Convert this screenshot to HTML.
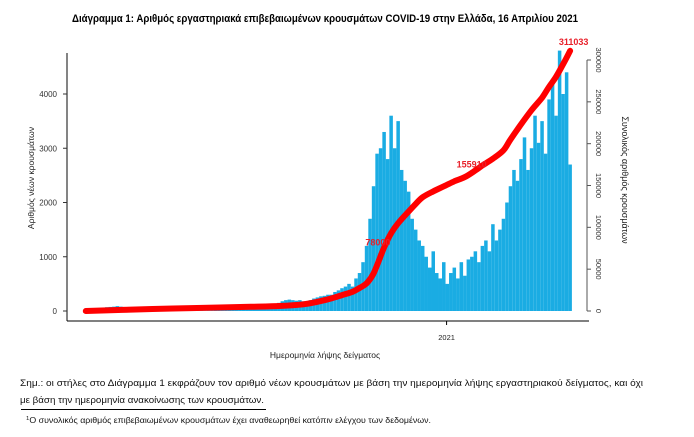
<!DOCTYPE html>
<html><head><meta charset="utf-8"><style>
html,body{margin:0;padding:0;background:#fff;}
svg{display:block;font-family:"Liberation Sans","DejaVu Sans",sans-serif;}
</style></head><body>
<svg id="chart" width="694" height="437" viewBox="0 0 694 437" xmlns="http://www.w3.org/2000/svg">
<text x="325" y="22" text-anchor="middle" font-size="11" font-weight="bold" textLength="506" lengthAdjust="spacingAndGlyphs" fill="#000">Διάγραμμα 1: Αριθμός εργαστηριακά επιβεβαιωμένων κρουσμάτων COVID-19 στην Ελλάδα, 16 Απριλίου 2021</text>
<g id="bars"></g>
<g id="line"></g>
<g id="axes"></g>
<text x="325" y="358" text-anchor="middle" font-size="8.5" fill="#222">Ημερομηνία λήψης δείγματος</text>
<text transform="translate(34,178) rotate(-90)" text-anchor="middle" font-size="8.5" fill="#222">Αριθμός νέων κρουσμάτων</text>
<text transform="translate(622,180) rotate(90)" text-anchor="middle" font-size="9" fill="#222">Συνολικός αριθμός κρουσμάτων</text>
<text x="20" y="386" font-size="9.5" fill="#111" textLength="623" lengthAdjust="spacingAndGlyphs">Σημ.: οι στήλες στο Διάγραμμα 1 εκφράζουν τον αριθμό νέων κρουσμάτων με βάση την ημερομηνία λήψης εργαστηριακού δείγματος, και όχι</text>
<text x="20" y="403" font-size="9.5" fill="#111" textLength="244" lengthAdjust="spacingAndGlyphs">με βάση την ημερομηνία ανακοίνωσης των κρουσμάτων.</text>
<line x1="21" y1="409.5" x2="266" y2="409.5" stroke="#000" stroke-width="1"/>
<text x="26" y="423" font-size="8" fill="#111" textLength="405" lengthAdjust="spacingAndGlyphs"><tspan font-size="5.5" dy="-3">1</tspan><tspan dy="3">Ο συνολικός αριθμός επιβεβαιωμένων κρουσμάτων έχει αναθεωρηθεί κατόπιν ελέγχου των δεδομένων.</tspan></text>
</svg>
<script>
// 3-day bins starting 26 Feb 2020 (daily new cases)
const newCases = [5,15,30,40,50,60,70,75,80,90,
80,70,60,50,40,30,25,20,15,12,
10,10,8,8,6,5,5,4,4,5,
6,8,10,8,6,7,8,10,12,15,
18,20,20,25,25,30,30,35,35,40,
45,50,60,80,120,150,180,200,210,200,
190,200,180,170,200,230,250,270,280,300,
300,350,380,420,450,500,450,600,700,900,
1200,1700,2300,2900,3000,3300,2800,3600,3000,3500,
2600,2400,2200,1700,1500,1300,1200,1000,800,1100,
700,600,900,500,700,800,600,900,650,950,
1000,1100,900,1200,1300,1100,1600,1300,1500,1700,
2000,2300,2600,2400,2800,3200,2600,3000,3600,3100,
3500,2900,3900,4200,3600,4800,4000,4400,2700];
// cumulative total, read at selected bins
const cumBins = [0,19,30,47,55,62,66,70,73,76,78,80,82,85,87,89,92,94,96,99,102,105,108,111,113,116,119,121,124,127,130,132,134,136,138];
const cumValues = [0,2400,3500,5000,6000,8000,11000,15000,19000,23000,27500,33000,45000,76000,93000,105000,119000,128000,136000,143000,149000,155000,160000,168000,174000,182000,192000,205000,223000,240000,255000,268000,280000,295000,311033];
const leftTicks = [0,1000,2000,3000,4000];
const rightTicks = [0,50000,100000,150000,200000,250000,300000];
const rightTickLabels = ["0","50000","100000","150000","200000","250000","300000"];
const cumLabels = ["78000","155910","311033"];
const cumLabelPos = [13,24,34];
const xTickLabel = "2021";
const xTickBin = 103.3;

const NS="http://www.w3.org/2000/svg";
const x0=84, pxPerBin=3.51;
const xS = i => x0 + i*pxPerBin;
const yL = v => 311 - v*54.25/1000;
const yR = v => 311 - v*251/300000;
function mk(tag, attrs, parent){const e=document.createElementNS(NS,tag);for(const k in attrs)e.setAttribute(k,attrs[k]);parent.appendChild(e);return e;}

const bars=document.getElementById('bars');
newCases.forEach((v,i)=>{
  const r=mk('rect',{x:xS(i),y:yL(v),width:pxPerBin,height:311-yL(v),fill:'#1aace3'},bars);
  
  
});

const lineG=document.getElementById('line');
const pts=cumValues.map((c,k)=>[xS(cumBins[k])+pxPerBin/2, yR(c)]);
let d='M'+pts[0][0].toFixed(1)+','+pts[0][1].toFixed(1);
for(let k=0;k<pts.length-1;k++){
  const p0=pts[Math.max(0,k-1)],p1=pts[k],p2=pts[k+1],p3=pts[Math.min(pts.length-1,k+2)];
  const c1=[p1[0]+(p2[0]-p0[0])/6,p1[1]+(p2[1]-p0[1])/6];
  const c2=[p2[0]-(p3[0]-p1[0])/6,p2[1]-(p3[1]-p1[1])/6];
  d+=`C${c1[0].toFixed(1)},${c1[1].toFixed(1)} ${c2[0].toFixed(1)},${c2[1].toFixed(1)} ${p2[0].toFixed(1)},${p2[1].toFixed(1)}`;
}
const p=mk('path',{d:d,fill:'none',stroke:'#f00','stroke-width':6,'stroke-linecap':'round','stroke-linejoin':'round'},lineG);


const lblDx=[8,6,20], lblDy=[-2,2,-6];
cumLabels.forEach((t,k)=>{
  const j=cumLabelPos[k];
  const cx=xS(cumBins[j]), cy=yR(cumValues[j]);
  const tx=mk('text',{x:cx+lblDx[k],y:cy+lblDy[k],'text-anchor':'end','font-size':9,'font-weight':'bold',fill:'#e8202a'},lineG);
  tx.textContent=t;
  
  
});

const ax=document.getElementById('axes');
const la=mk('line',{x1:67,y1:53,x2:67,y2:321,stroke:'#333','stroke-width':1.2},ax);


const ba=mk('line',{x1:67,y1:321,x2:589,y2:321,stroke:'#000','stroke-width':1},ax);


leftTicks.forEach(v=>{
  mk('line',{x1:63,y1:yL(v),x2:67,y2:yL(v),stroke:'#333'},ax);
  const t=mk('text',{x:57,y:yL(v)+3,'text-anchor':'end','font-size':8,fill:'#333'},ax);
  t.textContent=String(v);
  
  
});
const ra=mk('line',{x1:587,y1:yR(0),x2:587,y2:yR(300000),stroke:'#555','stroke-width':1},ax);


rightTicks.forEach((v,k)=>{
  mk('line',{x1:587,y1:yR(v),x2:591,y2:yR(v),stroke:'#555'},ax);
  const t=mk('text',{transform:`translate(596,${yR(v)}) rotate(90)`,'text-anchor':'middle','font-size':7.5,fill:'#333'},ax);
  t.textContent=rightTickLabels[k];
  
  
});
const xt=xS(xTickBin);
mk('line',{x1:xt,y1:321,x2:xt,y2:325,stroke:'#000'},ax);
const xl=mk('text',{x:xt,y:340,'text-anchor':'middle','font-size':7.5,fill:'#222'},ax);
xl.textContent=xTickLabel;


</script>
</body></html>
